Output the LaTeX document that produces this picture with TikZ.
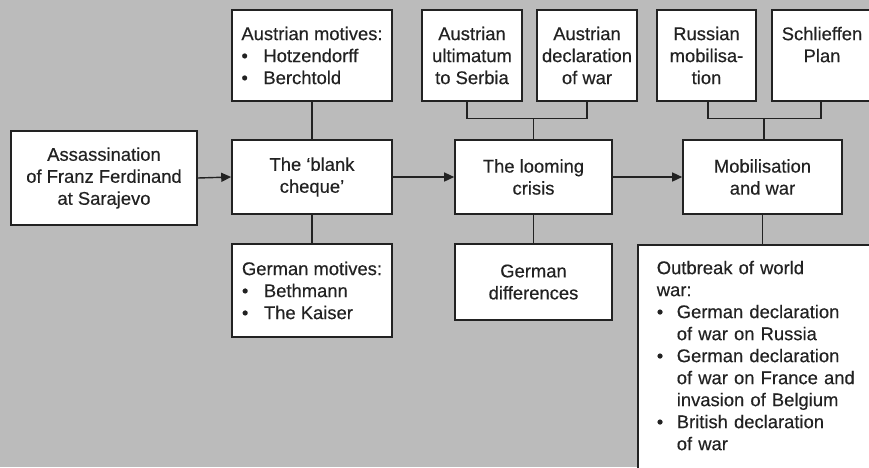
\documentclass[tikz,border=0pt]{standalone}
\usepackage{fontspec}
\setmainfont{Liberation Sans}[UprightFeatures={FakeBold=0.35}]
\usetikzlibrary{arrows.meta,calc}
\definecolor{bggrey}{HTML}{BBBBBB}
\definecolor{ink}{HTML}{222222}
\begin{document}
\begin{tikzpicture}[x=1pt,y=-1pt,
  box/.style={draw=ink,line width=1.6pt,fill=white,text=ink,inner sep=0pt,
    font=\fontsize{18.4pt}{22pt}\selectfont,align=center},
  link/.style={draw=ink,line width=1.4pt},
  flow/.style={link,-{Triangle[length=10pt,width=9pt]}}]
\useasboundingbox (0,0) rectangle (869,467);
\fill[bggrey] (0,0) rectangle (869,467);
\clip (0,0) rectangle (869,467);

% main chain
\node[box,minimum width=186pt,minimum height=94pt] (assn) at (104,178)
  {Assassination\\of Franz Ferdinand\\at Sarajevo};
\node[box,minimum width=160pt,minimum height=74pt] (blank) at (312,177)
  {The ‘blank\\cheque’};
\node[box,minimum width=157pt,minimum height=74pt] (loom) at (533.5,177)
  {The looming\\crisis};
\node[box,minimum width=159pt,minimum height=74pt] (mob) at (762.5,177)
  {Mobilisation\\and war};

% motives around the blank cheque
\node[box,align=left,minimum width=160pt,minimum height=91pt] (amot) at (312,55.5)
  {Austrian motives:\\\makebox[22pt][l]{\textbullet}Hotzendorff\\\makebox[22pt][l]{\textbullet}Berchtold};
\node[box,align=left,minimum width=160pt,minimum height=93pt] (gmot) at (312,290.5)
  {German motives:\\\makebox[22pt][l]{\textbullet}Bethmann\\\makebox[22pt][l]{\textbullet}The Kaiser};

% steps into the crisis
\node[box,minimum width=100pt,minimum height=91pt] (ult) at (472,55.5)
  {Austrian\\ultimatum\\to Serbia};
\node[box,minimum width=100pt,minimum height=91pt] (decl) at (587,55.5)
  {Austrian\\declaration\\of war};
\node[box,minimum width=157pt,minimum height=76pt] (gdiff) at (533.5,282)
  {German\\differences};

% steps into the war
\node[box,minimum width=99pt,minimum height=91pt] (rus) at (706.5,55.5)
  {Russian\\mobilisa-\\tion};
\node[box,minimum width=100pt,minimum height=91pt] (schl) at (822,55.5)
  {Schlieffen\\Plan\\\mbox{}};
\node[box,anchor=north west,align=left,text width=210pt,inner xsep=19pt,inner ysep=16pt]
  (outb) at (637,244)
  {Outbreak of world\\war:\\
   \makebox[20pt][l]{\textbullet}German declaration\\
   \hspace*{20pt}of war on Russia\\
   \makebox[20pt][l]{\textbullet}German declaration\\
   \hspace*{20pt}of war on France and\\
   \hspace*{20pt}invasion of Belgium\\
   \makebox[20pt][l]{\textbullet}British declaration\\
   \hspace*{20pt}of war\\
   \mbox{}};

% arrows along the chain
\draw[flow] (assn.east) -- (blank.west);
\draw[flow] (blank.east) -- (loom.west);
\draw[flow] (loom.east) -- (mob.west);

% plain links
\draw[link] (amot.south) -- (blank.north);
\draw[link] (blank.south) -- (gmot.north);
\draw[link] (loom.south) -- (gdiff.north);
\draw[link] (mob.south) -- (mob.south |- outb.north);

\coordinate (j1) at ($(loom.north)+(0,-21)$);
\draw[link] ([xshift=-5pt]ult.south) |- (j1) -| (decl.south);
\draw[link] (j1) -- (loom.north);

\coordinate (j2) at ($(mob.north)+(1.5,-21)$);
\draw[link] ([xshift=1.5pt]rus.south) |- (j2) -| ([xshift=-1pt]schl.south);
\draw[link] (j2) -- (j2 |- mob.north);
\end{tikzpicture}
\end{document}
